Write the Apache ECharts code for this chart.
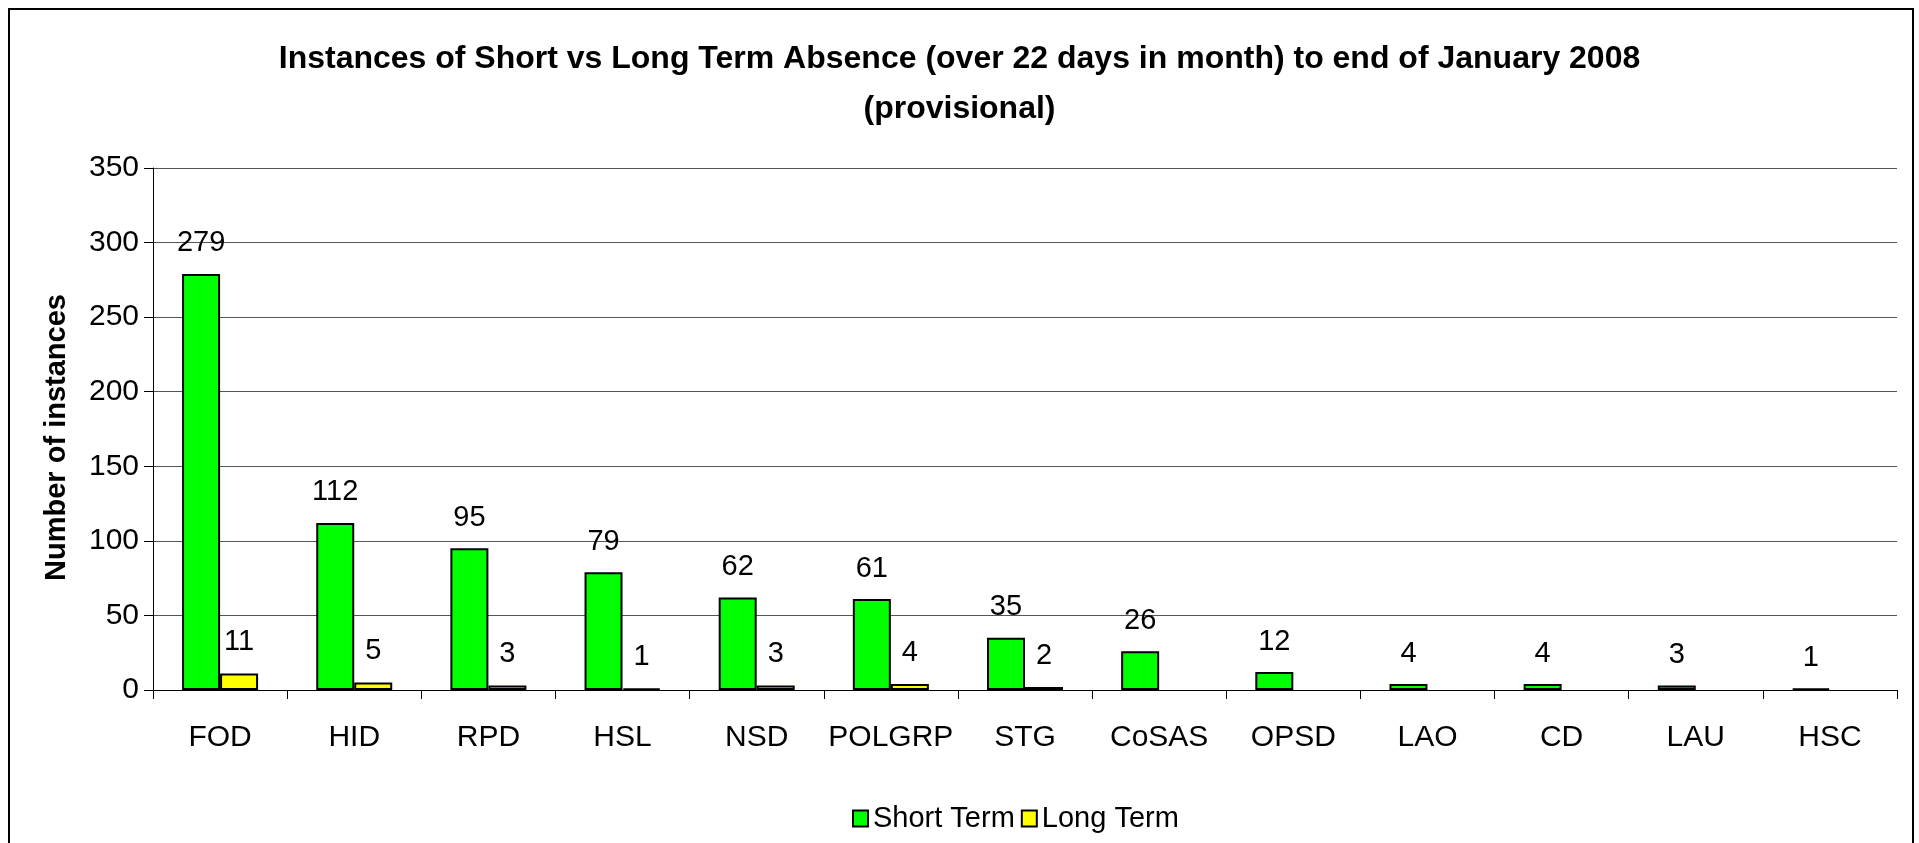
<!DOCTYPE html>
<html>
<head>
<meta charset="utf-8">
<script src="https://cdn.jsdelivr.net/npm/echarts@6/dist/echarts.min.js"></script>
<style>
  html, body { margin: 0; padding: 0; background: #fff; }
</style>
</head>
<body>
<div id="main" style="width:1919px;height:843px;"></div>
<script>
// chart data
var categories = ["FOD", "HID", "RPD", "HSL", "NSD", "POLGRP", "STG", "CoSAS", "OPSD", "LAO", "CD", "LAU", "HSC"];
var shortTerm = [279, 112, 95, 79, 62, 61, 35, 26, 12, 4, 4, 3, 1];
var longTerm = [11, 5, 3, 1, 3, 4, 2, null, null, null, null, null, null];
var yTicks = [0, 50, 100, 150, 200, 250, 300, 350];

var font = "'Liberation Sans', Arial, sans-serif";

var myChart = echarts.init(document.getElementById("main"));
var option = {
  backgroundColor: "#fff",
  animation: false,
  title: {
    text: "Instances of Short vs Long Term Absence (over 22 days in month) to end of January 2008\n(provisional)",
    left: "center",
    top: 29,
    textStyle: {
      fontFamily: font,
      fontWeight: "bold",
      fontSize: 32,
      lineHeight: 50,
      color: "#000"
    }
  },
  graphic: [
    {
      type: "rect",
      shape: { x: 9, y: 9, width: 1904, height: 900 },
      style: { fill: "none", stroke: "#000", lineWidth: 2 }
    }
  ],
  legend: {
    data: ["Short Term", "Long Term"],
    left: 847,
    top: 799,
    itemWidth: 15,
    itemHeight: 16,
    itemGap: 6,
    icon: "rect",
    textStyle: { fontFamily: font, fontSize: 29, color: "#000" }
  },
  grid: {
    left: 153,
    right: 22,
    top: 168,
    bottom: 153,
    containLabel: false
  },
  xAxis: {
    type: "category",
    data: categories,
    axisLine: { lineStyle: { color: "#000", width: 1 } },
    axisTick: { show: true, length: 9, lineStyle: { color: "#000" } },
    axisLabel: { interval: 0, fontFamily: font, fontSize: 30, color: "#000", margin: 33 }
  },
  yAxis: {
    type: "value",
    min: yTicks[0],
    max: yTicks[yTicks.length - 1],
    interval: 50,
    name: "Number of instances",
    nameLocation: "middle",
    nameGap: 82,
    nameTextStyle: { fontFamily: font, fontWeight: "bold", fontSize: 29, color: "#000", padding: [0, 17, 0, 0] },
    axisLine: { show: true, lineStyle: { color: "#000", width: 1 } },
    axisTick: { show: true, length: 9, lineStyle: { color: "#000" } },
    axisLabel: { fontFamily: font, fontSize: 30, color: "#000", margin: 14 },
    splitLine: { show: true, lineStyle: { color: "#555", width: 1 } }
  },
  series: [
    {
      name: "Short Term",
      type: "bar",
      data: shortTerm,
      barWidth: 38,
      barGap: "0%",
      itemStyle: { color: "#00ff00", borderColor: "#000", borderWidth: 2 },
      label: {
        show: true,
        position: "top",
        distance: 16,
        fontFamily: font,
        fontSize: 29,
        color: "#000"
      }
    },
    {
      name: "Long Term",
      type: "bar",
      data: longTerm,
      barWidth: 38,
      itemStyle: { color: "#ffff00", borderColor: "#000", borderWidth: 2 },
      label: {
        show: true,
        position: "top",
        distance: 17,
        fontFamily: font,
        fontSize: 29,
        color: "#000"
      }
    }
  ]
};
myChart.setOption(option);
</script>
</body>
</html>
